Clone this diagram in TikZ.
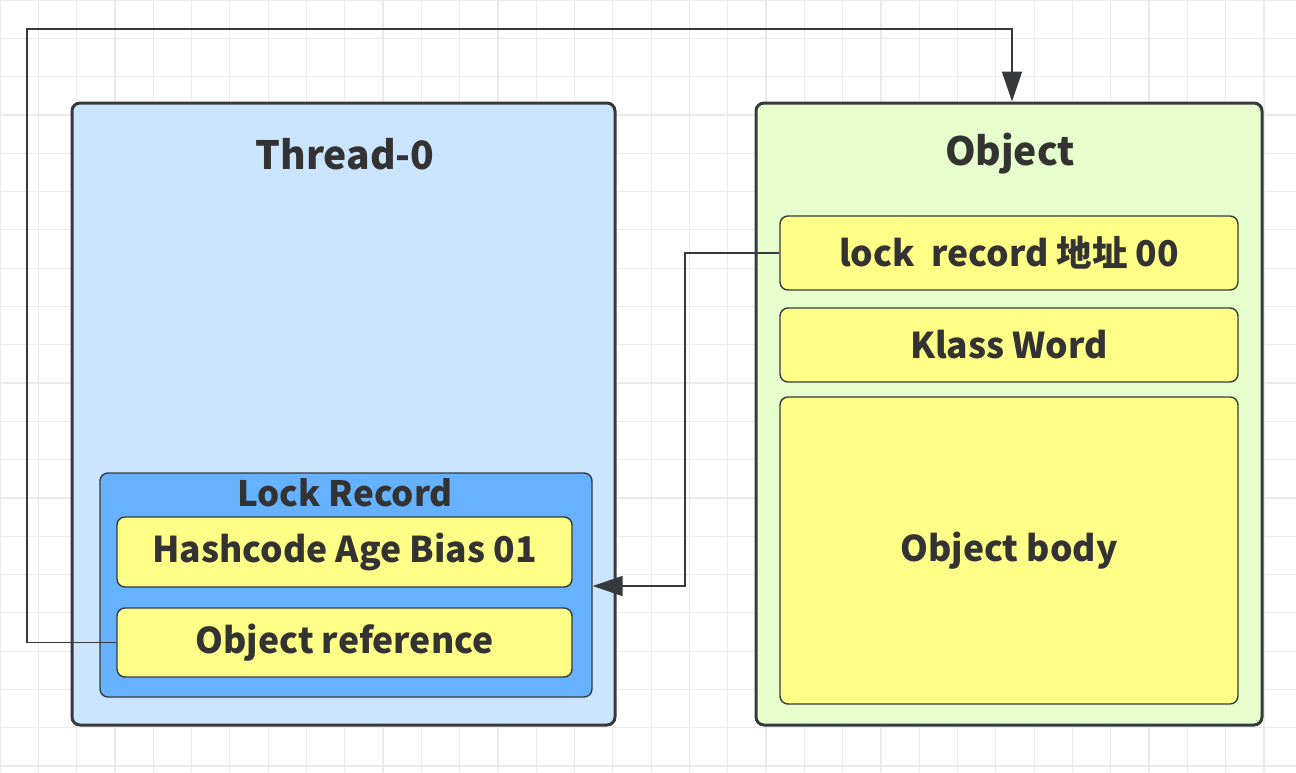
\documentclass[tikz,border=0pt]{standalone}
\usepackage{fontspec}
\setmainfont{Noto Sans CJK SC}
\usetikzlibrary{arrows.meta}
\definecolor{gridc}{HTML}{EBEBEB}
\definecolor{edge}{HTML}{36393D}
\definecolor{txt}{HTML}{333333}
\definecolor{threadfill}{HTML}{CCE5FF}
\definecolor{objfill}{HTML}{E6FFCC}
\definecolor{lockfill}{HTML}{66B2FF}
\definecolor{yel}{HTML}{FFFF88}
\tikzset{
  outerbox/.style={draw=edge, line width=3pt, rounded corners=8pt, inner sep=0pt},
  lockbox/.style={draw=edge, line width=1.4pt, fill=lockfill, rounded corners=8pt, inner sep=0pt},
  field/.style={draw=edge, line width=1.4pt, fill=yel, rounded corners=8pt, inner sep=0pt,
     font=\fontsize{35.5}{40}\selectfont\bfseries, text=txt},
  title/.style={font=\fontsize{39}{44}\selectfont\bfseries, text=txt, inner sep=0pt},
  subtitle/.style={font=\fontsize{35}{40}\selectfont\bfseries, text=txt, inner sep=0pt},
  conn/.style={draw=edge, line width=1.8pt},
  tip/.style={-{Triangle[length=30pt,width=20pt]}}
}
\begin{document}
\begin{tikzpicture}[x=1pt,y=-1pt]
\useasboundingbox (0,0) rectangle (1296,772);
\fill[white] (0,0) rectangle (1296,772);
% grid
\foreach \i in {0,...,34} {\draw[gridc, line width=1.2pt] ({\i*38.3},0) -- ({\i*38.3},772);}
\foreach \j in {0,...,20} {\draw[gridc, line width=1.2pt] (0,{\j*38.3}) -- (1296,{\j*38.3});}
% outer boxes
\node[outerbox, fill=threadfill, minimum width=543pt, minimum height=622pt] (thread) at (343.5,414) {};
\node[outerbox, fill=objfill, minimum width=506pt, minimum height=622pt] (object) at (1009,414) {};
\node[title] (threadtitle) at (345,154) {Thread-0};
\node[title] (objtitle) at (1010,154) {Object};
% lock record
\node[lockbox, minimum width=492pt, minimum height=224pt] (lockrec) at (346,585) {};
\node[subtitle] (locktitle) at (345,493) {Lock Record};
\node[field, minimum width=455pt, minimum height=70pt] (hash) at (344.5,552) {\raisebox{-2.5pt}{Hashcode Age Bias 01}};
\node[field, minimum width=455pt, minimum height=69pt] (objref) at (344.5,642.5) {\raisebox{-2.5pt}{Object reference}};
% object fields
\node[field, minimum width=458pt, minimum height=74pt] (lockaddr) at (1009,253) {\raisebox{-2.5pt}{lock~ record 地址 00}};
\node[field, minimum width=458pt, minimum height=74pt] (klass) at (1009,345) {\raisebox{-2.5pt}{Klass Word}};
\node[field, minimum width=458pt, minimum height=307pt] (body) at (1009,550.5) {\raisebox{-2.5pt}{Object body}};
% connectors
\coordinate (c1) at (27,29);
\coordinate (c2) at (685,586);
\draw[conn, tip] (objref.west) -| (c1) -| ([xshift=3pt]object.north);
\draw[conn, tip] (lockaddr.west) -| (c2) -- (lockrec.east |- c2);
\end{tikzpicture}
\end{document}
